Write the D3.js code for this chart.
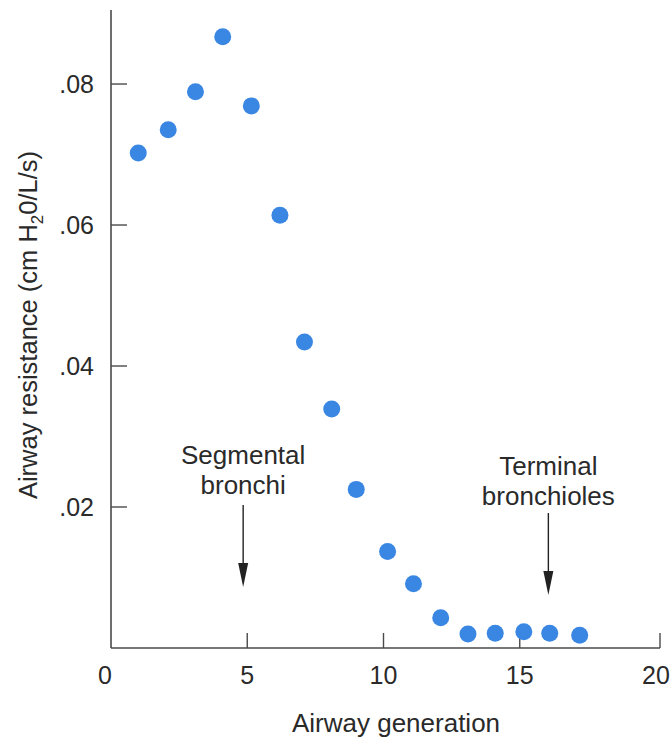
<!DOCTYPE html>
<html>
<head>
<meta charset="utf-8">
<script src="https://cdn.jsdelivr.net/npm/d3@7"></script>
<style>
  body { margin: 0; background: #fff; }
  svg text { font-family: "Liberation Sans", Arial, sans-serif; fill: #2a2a2a; }
</style>
</head>
<body>
<div id="chart"></div>
<script>
// airway generation vs resistance
var generations = [1.0, 2.1, 3.1, 4.1, 5.15, 6.2, 7.1, 8.1, 9.0, 10.15, 11.1, 12.1, 13.1, 14.1, 15.15, 16.1, 17.2];
var resistance = [0.0702, 0.0735, 0.0789, 0.0867, 0.0769, 0.0614, 0.0434, 0.0339,
                  0.0225, 0.0137, 0.0091, 0.0043, 0.0020, 0.0021, 0.0023, 0.0021, 0.0018];
var xTicks = [0, 5, 10, 15, 20];
var yTicks = [0.02, 0.04, 0.06, 0.08];
var yTickLabels = ['.02', '.04', '.06', '.08'];
var notes = [
    { gen: 4.85, lines: ['Segmental', 'bronchi'] },
    { gen: 16.05, lines: ['Terminal', 'bronchioles'] }
];

var width = 672, height = 747;
var svg = d3.select('#chart')
    .append('svg')
    .attr('width', width)
    .attr('height', height);

var x = d3.scaleLinear().domain([0, 20]).range([111, 656]);
var y = d3.scaleLinear().domain([0, 0.0905]).range([648, 10]);

var axisColor = '#4a4a4a';

// axes lines
svg.append('line')
    .attr('x1', x(0)).attr('x2', x(0))
    .attr('y1', y(0)).attr('y2', y(0.0905))
    .style('stroke', axisColor).style('stroke-width', 1.6);
svg.append('line')
    .attr('x1', x(0)).attr('x2', x(20) + 4)
    .attr('y1', y(0)).attr('y2', y(0))
    .style('stroke', axisColor).style('stroke-width', 1.6);

// x ticks point up into the plot
svg.selectAll('.xtick')
    .data(xTicks.filter(function(d) { return d > 0; }))
    .enter().append('line')
    .attr('x1', function(d) { return x(d) + (d === 20 ? 4 : 0); })
    .attr('x2', function(d) { return x(d) + (d === 20 ? 4 : 0); })
    .attr('y1', y(0)).attr('y2', y(0) - 15)
    .style('stroke', axisColor).style('stroke-width', 1.4);

svg.selectAll('.xlabel')
    .data(xTicks)
    .enter().append('text')
    .attr('x', function(d) { return x(d) - (d === 0 ? 6 : 0); })
    .attr('y', 684)
    .attr('text-anchor', 'middle')
    .style('font-size', '25px')
    .text(function(d) { return d; });

// y ticks point right
svg.selectAll('.ytick')
    .data(yTicks)
    .enter().append('line')
    .attr('x1', x(0)).attr('x2', x(0) + 16)
    .attr('y1', function(d) { return y(d); })
    .attr('y2', function(d) { return y(d); })
    .style('stroke', axisColor).style('stroke-width', 1.4);

svg.selectAll('.ylabel')
    .data(yTicks)
    .enter().append('text')
    .attr('x', 94)
    .attr('y', function(d) { return y(d); })
    .attr('dy', '.36em')
    .attr('text-anchor', 'end')
    .style('font-size', '25px')
    .text(function(d, i) { return yTickLabels[i]; });

// axis titles
svg.append('text')
    .attr('x', 396)
    .attr('y', 732)
    .attr('text-anchor', 'middle')
    .style('font-size', '26px')
    .text('Airway generation');

var yTitle = svg.append('text')
    .attr('transform', 'translate(37,325) rotate(-90)')
    .attr('text-anchor', 'middle')
    .style('font-size', '25.5px');
yTitle.append('tspan').text('Airway resistance (cm H');
yTitle.append('tspan').attr('dy', 6).style('font-size', '17px').text('2');
yTitle.append('tspan').attr('dy', -6).text('0/L/s)');

// annotations
var noteTop = { 'Segmental': 464, 'Terminal': 475 };
var arrowTop = { 'Segmental': 505, 'Terminal': 513 };
notes.forEach(function(n) {
    var cx = x(n.gen);
    var base = noteTop[n.lines[0]];
    n.lines.forEach(function(line, i) {
        svg.append('text')
            .attr('x', cx)
            .attr('y', base + i * 30)
            .attr('text-anchor', 'middle')
            .style('font-size', '26px')
            .text(line);
    });
    var top = arrowTop[n.lines[0]];
    svg.append('line')
        .attr('x1', cx).attr('x2', cx)
        .attr('y1', top)
        .attr('y2', top + 60)
        .style('stroke', '#222').style('stroke-width', 1.4);
    svg.append('path')
        .attr('d', 'M' + (cx - 5) + ',' + (top + 58) + ' L' + (cx + 5) + ',' + (top + 58) +
            ' L' + cx + ',' + (top + 82) + ' Z')
        .style('fill', '#222');
});

// data points
svg.selectAll('.dot')
    .data(generations)
    .enter().append('circle')
    .attr('cx', function(d) { return x(d); })
    .attr('cy', function(d, i) { return y(resistance[i]); })
    .attr('r', 8.5)
    .style('fill', '#3a87e3');
</script>
</body>
</html>
